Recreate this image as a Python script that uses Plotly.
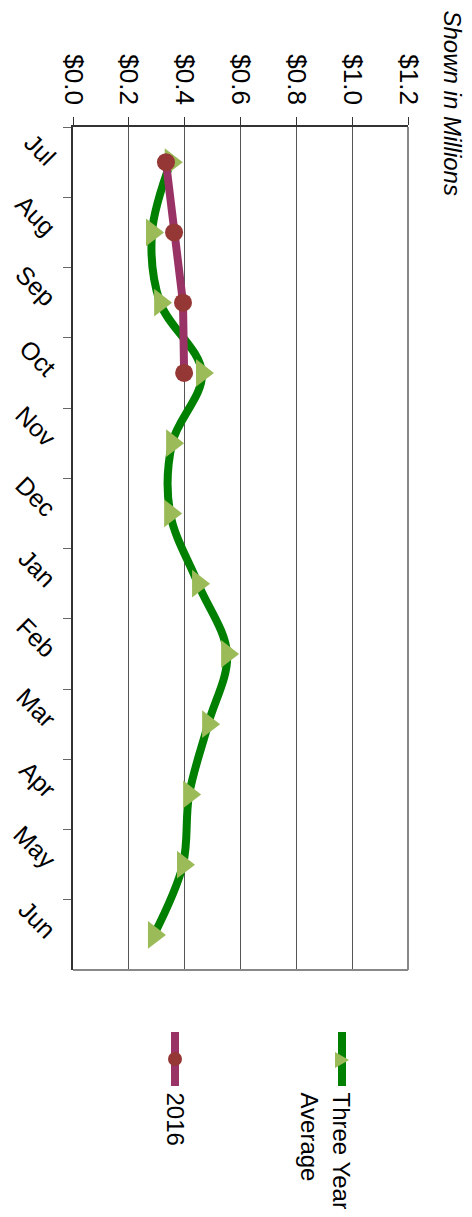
import plotly.graph_objects as go

months = ["Jul", "Aug", "Sep", "Oct", "Nov", "Dec", "Jan", "Feb", "Mar", "Apr", "May", "Jun"]
three_year_avg = [0.35, 0.283, 0.312, 0.462, 0.355, 0.348, 0.448, 0.552, 0.484, 0.416, 0.394, 0.290]
months_2016 = ["Jul", "Aug", "Sep", "Oct"]
values_2016 = [0.333, 0.362, 0.394, 0.398]
value_ticks = [0.0, 0.2, 0.4, 0.6, 0.8, 1.0, 1.2]
value_tick_labels = ["$0.0", "$0.2", "$0.4", "$0.6", "$0.8", "$1.0", "$1.2"]

FONT = "Liberation Sans, Arial, sans-serif"
W, H = 456, 1201
# plot area in page pixels
PX0, PX1, PY0, PY1 = 73, 408, 127, 970


def px(xp):
    return (xp - PX0) / (PX1 - PX0)


def py(yp):
    return (PY1 - yp) / (PY1 - PY0)


fig = go.Figure()
fig.add_trace(go.Scatter(
    x=three_year_avg, y=months, mode="lines+markers", name="Three Year Average",
    line=dict(color="#008000", width=8, shape="spline", smoothing=1),
    marker=dict(symbol="triangle-right", size=24, color="#9BBB59", line=dict(width=0)),
    showlegend=False, cliponaxis=False,
))
fig.add_trace(go.Scatter(
    x=values_2016, y=months_2016, mode="lines+markers", name="2016",
    line=dict(color="#993366", width=8),
    marker=dict(symbol="circle", size=18, color="#953735", line=dict(width=0)),
    showlegend=False, cliponaxis=False,
))

shapes = [
    dict(type="line", xref="paper", yref="paper", x0=1, x1=1, y0=0, y1=1,
         line=dict(color="#888888", width=2)),
    dict(type="line", xref="paper", yref="paper", x0=0, x1=1, y0=0, y1=0,
         line=dict(color="#888888", width=2)),
    # legend samples
    dict(type="line", xref="paper", yref="paper", x0=px(342), x1=px(342), y0=py(1032), y1=py(1086),
         line=dict(color="#008000", width=8)),
    dict(type="path", xref="paper", yref="paper",
         path=f"M {px(335)} {py(1052)} L {px(349)} {py(1060)} L {px(335)} {py(1068)} Z",
         fillcolor="#9BBB59", line=dict(width=0)),
    dict(type="line", xref="paper", yref="paper", x0=px(175), x1=px(175), y0=py(1032), y1=py(1086),
         line=dict(color="#993366", width=8)),
    dict(type="circle", xref="paper", yref="paper", x0=px(168), x1=px(182), y0=py(1066), y1=py(1052),
         fillcolor="#953735", line=dict(width=0)),
]

annotations = [
    dict(text="<i>Shown in Millions</i>", xref="paper", yref="paper", x=px(452), y=py(8),
         xanchor="center", yanchor="top", textangle=90, showarrow=False,
         font=dict(family=FONT, size=24, color="#000")),
    dict(text="Three Year<br>Average", xref="paper", yref="paper", x=px(326), y=py(1090),
         xanchor="center", yanchor="top", textangle=90, showarrow=False, align="left",
         font=dict(family=FONT, size=24, color="#000")),
    dict(text="2016", xref="paper", yref="paper", x=px(175), y=py(1090),
         xanchor="center", yanchor="top", textangle=90, showarrow=False,
         font=dict(family=FONT, size=24, color="#000")),
]

fig.update_layout(
    width=W, height=H,
    margin=dict(l=PX0 - 8, r=W - (PX1 - 8), t=PY0 - 8, b=H - (PY1 - 8), pad=0, autoexpand=False),
    paper_bgcolor="white", plot_bgcolor="white",
    font=dict(family=FONT, size=24, color="#000"),
    showlegend=False,
    shapes=shapes, annotations=annotations,
    xaxis=dict(
        range=[0, 1.2], side="top", tickmode="array", tickvals=value_ticks, ticktext=value_tick_labels,
        showgrid=True, gridcolor="#555555", gridwidth=1, zeroline=False, automargin=False,
        showline=True, linecolor="#333333", linewidth=2,
        ticks="outside", ticklen=8, tickcolor="#333333", tickwidth=1,
        tickangle=90, ticklabelstandoff=3, tickfont=dict(family=FONT, size=26, color="#000"),
    ),
    yaxis=dict(
        type="category", categoryorder="array", categoryarray=months,
        range=[11.5, -0.5], showgrid=False, zeroline=False, automargin=False,
        showline=True, linecolor="#333333", linewidth=2,
        ticks="outside", tickson="boundaries", ticklen=8, tickcolor="#666666", tickwidth=1,
        tickangle=45, ticklabelstandoff=12, tickfont=dict(family=FONT, size=25, color="#000"),
    ),
)

fig.write_html("out.html")
